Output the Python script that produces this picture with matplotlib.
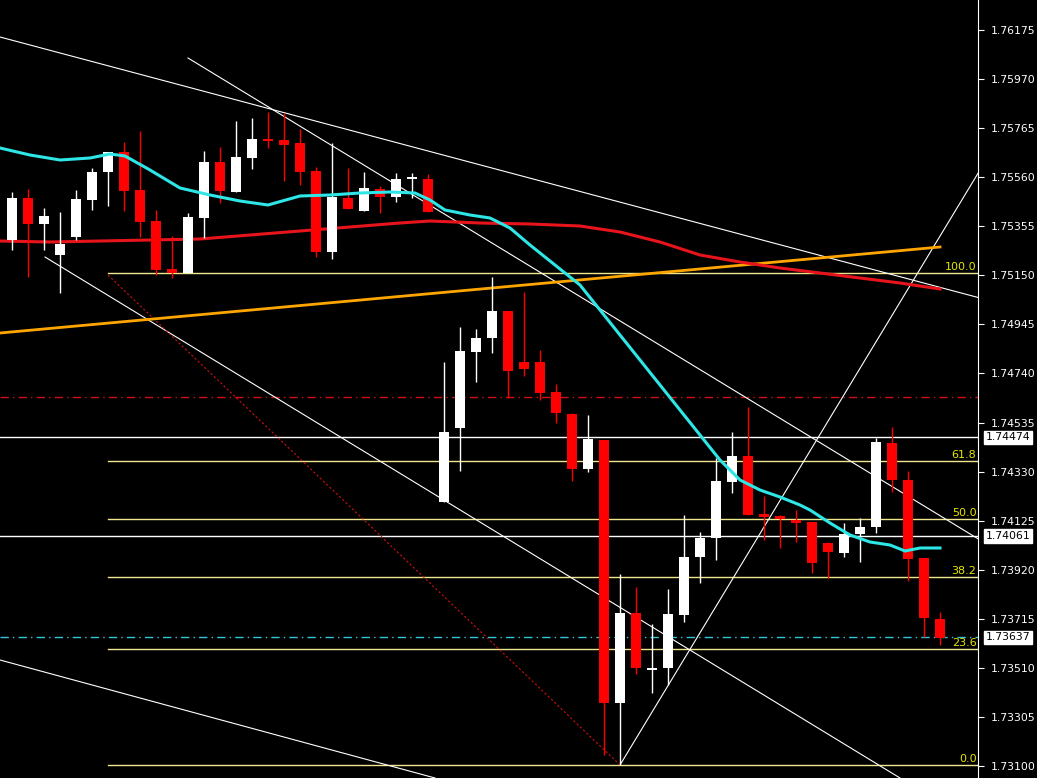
import matplotlib
matplotlib.use("Agg")
import matplotlib.pyplot as plt
import numpy as np

# price scale
P_TOP, Y_TOP, P_BOT, Y_BOT = 1.76175, 30.0, 1.73100, 766.0
def px2p(y):
    y = np.asarray(y, dtype=float)
    return P_TOP - (y - Y_TOP) * (P_TOP - P_BOT) / (Y_BOT - Y_TOP)

# candle OHLC (vertical pixel levels)
open_px  = [240,198,224,255,237,200,172,152,190,221,269,273,218,162,192,158,139,140,143,171,252,198,211,189,197,179,179,
            502,428,352,338,311,362,362,392,414,469,440,703,613,670,668,615,557,538,482,456,514,516,520,522,543,553,534,527,443,480,558,619]
close_px = [198,224,216,244,199,172,152,191,222,270,273,217,162,191,157,139,141,145,172,252,197,209,188,197,179,177,212,
            432,351,338,311,371,369,393,413,469,439,703,613,668,668,614,557,538,481,456,515,517,519,523,563,552,534,527,442,480,559,618,638]
high_px  = [192,189,208,212,190,168,152,142,131,210,236,213,151,147,121,118,112,113,129,167,143,168,172,186,173,173,174,
            362,327,329,277,311,292,350,384,413,415,440,574,587,624,589,515,532,458,432,407,496,515,510,522,542,523,518,438,427,471,558,612]
low_px   = [250,277,250,293,240,210,206,211,237,275,278,273,238,203,192,169,148,181,185,257,259,209,211,213,202,198,212,
            502,471,382,353,398,376,400,423,481,472,755,765,674,693,685,622,583,560,493,515,540,548,542,573,578,557,562,533,492,581,637,645]
opens, closes, highs, lows = map(px2p, (open_px, close_px, high_px, low_px))
idx = np.arange(len(opens))

# moving averages / trend (x in pixels, y in pixel levels)
cyan_x = [0,30,60,90,110,125,150,180,210,240,268,300,330,360,390,415,430,445,470,490,510,530,555,580,600,620,640,660,680,700,720,740,760,780,800,810,830,850,870,890,905,920,940]
cyan_y = [148,155,160,158,154,156,170,188,195,201,205,196,195,193,192,193,200,210,215,218,228,245,265,285,310,335,360,385,410,435,460,480,490,497,505,510,523,535,542,545,551,548,548]
red_x = [0,50,100,150,200,250,300,350,400,430,480,530,580,620,660,700,740,780,820,860,900,940]
red_y = [241,242,241,240,239,235,231,227,223,221,223,224,226,232,242,255,262,268,273,278,283,289]

fib_levels = ["100.0","61.8","50.0","38.2","23.6","0.0"]
fib_px = [273,461,519,577,649,765]
tick_prices = [1.76175,1.75970,1.75765,1.75560,1.75355,1.75150,1.74945,1.74740,1.74535,1.74330,1.74125,1.73920,1.73715,1.73510,1.73305,1.73100]
boxed_prices = [1.74474,1.74061,1.73637]

def x2i(x):
    return (np.asarray(x, dtype=float) - 12.0) / 16.0

W, H = 1037, 778
fig = plt.figure(figsize=(W/100, H/100), dpi=100, facecolor="black")
ax = fig.add_axes([0, 0, 978/W, 1], facecolor="black")
ax.set_xlim(x2i(0), x2i(978))
ax.set_ylim(px2p(778), px2p(0))

def seg(x0, y0, x1, y1, **kw):
    ax.plot(x2i([x0, x1]), px2p([y0, y1]), **kw)

seg(0, 333, 940, 247, color="#ffa500", lw=2, zorder=2)
ax.plot(x2i(red_x), px2p(red_y), color="#e8141c", lw=2.2, zorder=2)
ax.plot(x2i(cyan_x), px2p(cyan_y), color="#2ee6e6", lw=2.2, zorder=4)
ax.axhline(px2p(397), color="#d01010", lw=1, ls=(0, (6, 3, 1, 3)), zorder=1)
ax.axhline(1.73637, color="#2ec8d8", lw=1, ls=(0, (6, 3, 1, 3)), zorder=1)
for bp in boxed_prices[:2]:
    ax.axhline(bp, color="white", lw=1, zorder=1)
for lab, yp in zip(fib_levels, fib_px):
    ax.plot([x2i(108), x2i(978)], [px2p(yp)]*2, color="#f0e68c", lw=1, zorder=1)
    ax.text(x2i(978) - 0.1, px2p(yp - 1), lab, color="#e6e600", fontsize=8, ha="right", va="bottom")

seg(0, 37, 980, 298, color="white", lw=0.8, zorder=1)
seg(188, 58, 980, 540, color="white", lw=0.8, zorder=1)
seg(45, 257, 900, 778, color="white", lw=0.8, zorder=1)
seg(0, 660, 435, 778, color="white", lw=0.8, zorder=1)
seg(620, 765, 980, 170, color="white", lw=0.8, zorder=1)
seg(108, 275, 620, 765, color="#d01010", lw=0.8, ls=(0, (2, 2)), zorder=1)

for i, o, c, h, l in zip(idx, opens, closes, highs, lows):
    col = "white" if c >= o else "#ff0000"
    ax.vlines(i, l, h, color=col, lw=1, zorder=3)
    bot, top = min(o, c), max(o, c)
    ax.bar(i, max(top - bot, 0.00003), bottom=bot, width=0.68, color=col, edgecolor=col, lw=0, zorder=3)

ax.yaxis.tick_right()
ax.set_yticks(tick_prices)
ax.set_yticklabels([f"{t:.5f}" for t in tick_prices], color="white", fontsize=7.8)
ax.tick_params(axis="y", colors="white", length=4, pad=5)
ax.set_xticks([])
for s in ["top", "left", "bottom"]:
    ax.spines[s].set_visible(False)
ax.spines["right"].set_color("white")
for bp in boxed_prices:
    ax.text(1.008, bp, f"{bp:.5f}", transform=ax.get_yaxis_transform(), color="black", fontsize=7.8,
            va="center", ha="left", bbox=dict(facecolor="white", edgecolor="white", pad=1.2))

fig.savefig("out.png", dpi=100, facecolor="black")
